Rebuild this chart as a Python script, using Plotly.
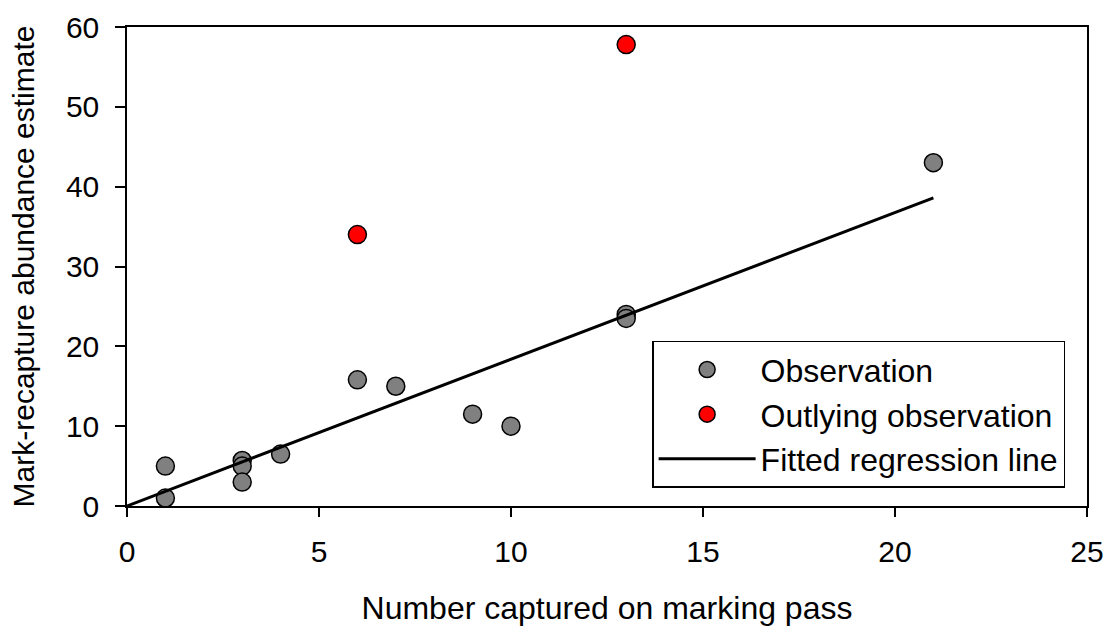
import plotly.graph_objects as go

obs_x = [1, 1, 3, 3, 3, 4, 6, 7, 9, 10, 13, 13, 21]
obs_y = [5.0, 1.0, 5.7, 5.0, 3.0, 6.5, 15.8, 15.0, 11.5, 10.0, 24.0, 23.5, 43.0]
out_x = [6, 13]
out_y = [34.0, 57.8]
fit_x = [0, 21]
fit_y = [0.0, 38.6]

FONT = "Liberation Sans, Arial, sans-serif"

fig = go.Figure()
fig.add_trace(go.Scatter(x=obs_x, y=obs_y, mode="markers", name="Observation",
                         marker=dict(size=18, color="#808080", line=dict(color="black", width=1.5))))
fig.add_trace(go.Scatter(x=out_x, y=out_y, mode="markers", name="Outlying observation",
                         marker=dict(size=18, color="#ff0000", line=dict(color="black", width=1.5))))
fig.add_trace(go.Scatter(x=fit_x, y=fit_y, mode="lines", name="Fitted regression line",
                         line=dict(color="black", width=3)))

fig.update_layout(
    width=1109, height=626,
    margin=dict(l=127, r=22, t=27, b=120),
    plot_bgcolor="white", paper_bgcolor="white",
    font=dict(family=FONT, size=30, color="black"),
    showlegend=True,
    legend=dict(x=0.547, y=0.345, xanchor="left", yanchor="top",
                bordercolor="black", borderwidth=1.5, bgcolor="white",
                font=dict(size=32), itemwidth=97, tracegroupgap=0),
    xaxis=dict(range=[0, 25], tickvals=[0, 5, 10, 15, 20, 25], ticks="outside", ticklen=9,
               tickwidth=1.5, tickcolor="black", showline=True, linecolor="black", linewidth=1.5,
               mirror=True, showgrid=False, zeroline=False, ticklabelstandoff=9,
               tickfont=dict(size=30), automargin=False,
               title=dict(text="Number captured on marking pass", font=dict(size=32), standoff=32)),
    yaxis=dict(range=[0, 60], tickvals=[0, 10, 20, 30, 40, 50, 60], ticks="outside", ticklen=10,
               tickwidth=1.5, tickcolor="black", showline=True, linecolor="black", linewidth=1.5,
               mirror=True, showgrid=False, zeroline=False, ticklabelstandoff=10,
               tickfont=dict(size=30), automargin=False,
               title=dict(text="Mark-recapture abundance estimate", font=dict(size=30), standoff=22)),
)
fig.write_html("out.html")
